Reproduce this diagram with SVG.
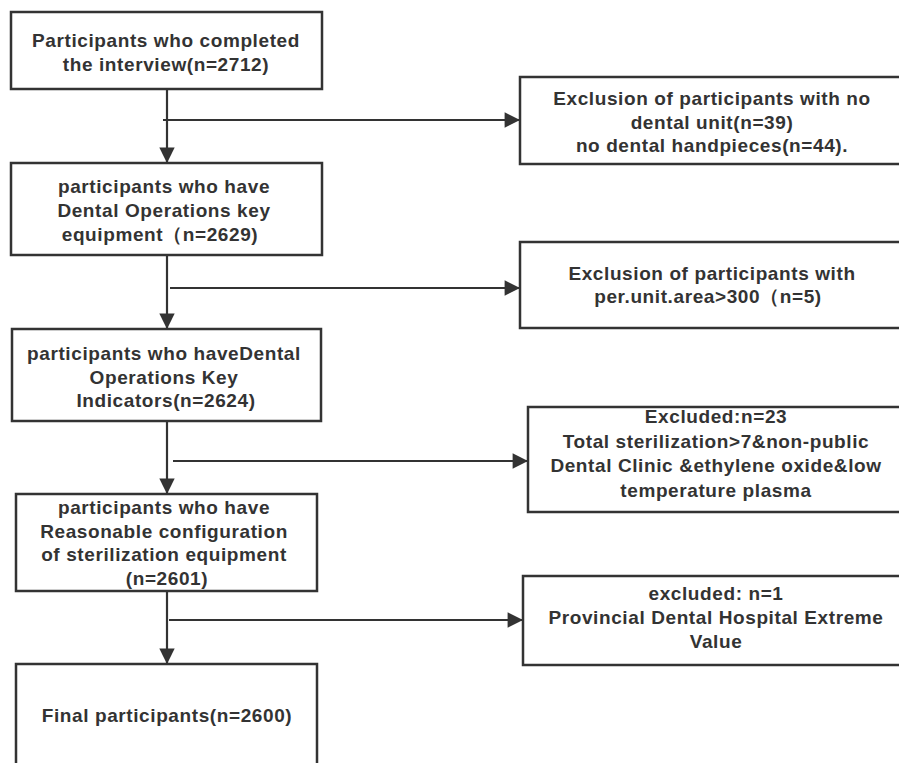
<svg xmlns="http://www.w3.org/2000/svg" width="899" height="763" viewBox="0 0 899 763">
<defs>
<style>
.box{fill:#fff;stroke:#333;stroke-width:2.5}
.t{font-family:"Liberation Sans",Arial,sans-serif;font-weight:bold;font-size:19px;letter-spacing:0.6px;fill:#333;text-anchor:middle}
.ln{stroke:#333;stroke-width:2.2;fill:none}
</style>
<marker id="ah" viewBox="0 0 10 10" refX="10" refY="5" markerWidth="9" markerHeight="7" markerUnits="strokeWidth" orient="auto">
<path d="M0,0 L10,5 L0,10 Z" fill="#333"/>
</marker>
</defs>
<rect width="899" height="763" fill="#fff"/>
<g id="connectors">
<line class="ln" x1="167" y1="89" x2="167" y2="163" marker-end="url(#ah)"/>
<line class="ln" x1="163" y1="120" x2="520" y2="120" marker-end="url(#ah)"/>
<line class="ln" x1="167" y1="255" x2="167" y2="329" marker-end="url(#ah)"/>
<line class="ln" x1="170" y1="288" x2="520" y2="288" marker-end="url(#ah)"/>
<line class="ln" x1="167" y1="421" x2="167" y2="494" marker-end="url(#ah)"/>
<line class="ln" x1="173" y1="461" x2="528" y2="461" marker-end="url(#ah)"/>
<line class="ln" x1="167" y1="591" x2="167" y2="664" marker-end="url(#ah)"/>
<line class="ln" x1="169" y1="620" x2="523" y2="620" marker-end="url(#ah)"/>
</g>
<g id="n1">
<rect class="box" x="11" y="12" width="311" height="77"/>
<text class="t" x="166" y="47">Participants who completed</text>
<text class="t" x="166" y="71">the interview(n=2712)</text>
</g>
<g id="n2">
<rect class="box" x="11" y="163" width="311" height="92"/>
<text class="t" x="164" y="193">participants who have</text>
<text class="t" x="164" y="217">Dental Operations key</text>
<text class="t" x="160" y="241">equipment（n=2629)</text>
</g>
<g id="n3">
<rect class="box" x="12" y="329" width="309" height="92"/>
<text class="t" x="164" y="360">participants who haveDental</text>
<text class="t" x="164" y="384">Operations Key</text>
<text class="t" x="166" y="407">Indicators(n=2624)</text>
</g>
<g id="n4">
<rect class="box" x="16" y="494" width="301" height="97"/>
<text class="t" x="164" y="514">participants who have</text>
<text class="t" x="164" y="538">Reasonable configuration</text>
<text class="t" x="164" y="561">of sterilization equipment</text>
<text class="t" x="167" y="585">(n=2601)</text>
</g>
<g id="n5">
<rect class="box" x="16" y="664" width="301" height="120"/>
<text class="t" x="167" y="722">Final participants(n=2600)</text>
</g>
<g id="r1">
<rect class="box" x="520" y="77" width="392" height="87"/>
<text class="t" x="712" y="105">Exclusion of participants with no</text>
<text class="t" x="712" y="129">dental unit(n=39)</text>
<text class="t" x="712" y="152">no dental handpieces(n=44).</text>
</g>
<g id="r2">
<rect class="box" x="520" y="242" width="392" height="86"/>
<text class="t" x="712" y="280">Exclusion of participants with</text>
<text class="t" x="708" y="303">per.unit.area&gt;300（n=5)</text>
</g>
<g id="r3">
<rect class="box" x="528" y="407" width="384" height="105"/>
<text class="t" x="716" y="423">Excluded:n=23</text>
<text class="t" x="716" y="448">Total sterilization&gt;7&amp;non-public</text>
<text class="t" x="716" y="472">Dental Clinic &amp;ethylene oxide&amp;low</text>
<text class="t" x="716" y="497">temperature plasma</text>
</g>
<g id="r4">
<rect class="box" x="523" y="576" width="389" height="89"/>
<text class="t" x="716" y="600">excluded: n=1</text>
<text class="t" x="716" y="624">Provincial Dental Hospital Extreme</text>
<text class="t" x="716" y="648">Value</text>
</g>
</svg>
